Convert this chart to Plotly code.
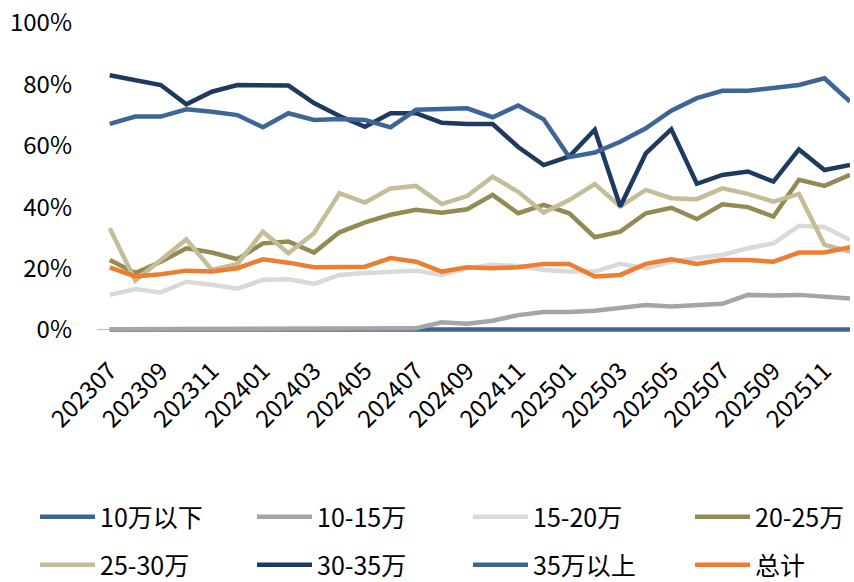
import plotly.graph_objects as go

months = ["202307", "202308", "202309", "202310", "202311", "202312",
          "202401", "202402", "202403", "202404", "202405", "202406",
          "202407", "202408", "202409", "202410", "202411", "202412",
          "202501", "202502", "202503", "202504", "202505", "202506",
          "202507", "202508", "202509", "202510", "202511", "202512"]

tick_labels = months[::2]

s_below10 = [0.1, 0.1, 0.1, 0.1, 0.1, 0.1, 0.1, 0.1, 0.1, 0.1, 0.1, 0.1,
             0.1, 0.1, 0.1, 0.1, 0.1, 0.1, 0.1, 0.1, 0.1, 0.1, 0.1, 0.2,
             0.2, 0.2, 0.2, 0.2, 0.2, 0.1]
s_10_15 = [0.2, 0.2, 0.3, 0.2, 0.2, 0.2, 0.2, 0.2, 0.3, 0.3, 0.4, 0.4,
           0.5, 2.5, 2.0, 3.0, 4.8, 5.8, 5.8, 6.2, 7.0, 8.1, 7.6, 7.9,
           8.5, 11.4, 11.2, 11.4, 10.8, 10.2]
s_15_20 = [11.4, 13.3, 12.2, 15.7, 14.7, 13.4, 16.3, 16.5, 15.0, 17.9, 18.5, 19.0,
           19.3, 17.9, 20.1, 21.2, 20.8, 19.5, 19.0, 19.0, 21.5, 20.1, 22.2, 23.4,
           24.4, 26.6, 28.2, 33.9, 33.5, 29.3]
s_20_25 = [22.8, 18.5, 22.2, 26.6, 25.2, 23.0, 28.2, 28.8, 25.2, 31.8, 35.0, 37.5,
           39.1, 38.2, 39.3, 44.0, 38.0, 40.7, 38.0, 30.2, 32.0, 38.0, 39.8, 36.1,
           40.9, 40.0, 36.9, 48.9, 46.9, 50.5]
s_25_30 = [33.1, 16.1, 22.8, 29.5, 19.5, 21.5, 32.0, 25.0, 31.5, 44.5, 41.5, 46.1,
           46.9, 41.0, 43.6, 49.9, 45.0, 38.2, 42.3, 47.5, 40.2, 45.6, 42.9, 42.6,
           46.1, 44.3, 41.8, 44.3, 27.7, 25.5]
s_30_35 = [83.0, 81.4, 79.8, 73.5, 77.6, 79.8, 79.6, 79.6, 73.9, 69.7, 66.2, 70.6,
           70.6, 67.5, 67.1, 67.1, 59.6, 53.7, 56.5, 65.2, 40.2, 57.5, 65.4, 47.6,
           50.5, 51.6, 48.3, 58.8, 52.1, 53.7]
s_above35 = [67.1, 69.5, 69.5, 71.9, 71.1, 70.0, 66.0, 70.6, 68.4, 68.7, 68.4, 66.0,
             71.7, 71.9, 72.2, 69.3, 73.1, 68.6, 56.3, 57.8, 61.3, 65.7, 71.4, 75.5,
             77.9, 77.9, 78.7, 79.8, 82.0, 74.4]
s_total = [20.4, 17.4, 18.1, 19.3, 19.0, 20.1, 23.0, 21.9, 20.4, 20.6, 20.6, 23.4,
           22.2, 19.0, 20.4, 20.1, 20.4, 21.5, 21.5, 17.4, 17.9, 21.5, 23.0, 21.5,
           22.8, 22.8, 22.2, 25.2, 25.2, 26.9]

series_names = ["10万以下", "10-15万", "15-20万", "20-25万",
                "25-30万", "30-35万", "35万以上", "总计"]
series_values = [s_below10, s_10_15, s_15_20, s_20_25,
                 s_25_30, s_30_35, s_above35, s_total]
series_colors = ["#3C6497", "#A5A5A5", "#D9D9D9", "#948A54",
                 "#C4BD97", "#1F3A60", "#3D6697", "#ED7D31"]

FONT = "Noto Sans CJK SC, Noto Sans, sans-serif"
W, H = 854, 582

# legend slot positions (pixels in figure coords): 4 columns x 2 rows
col_px = [35, 252, 468, 690]
row_px = [517, 565]

fig = go.Figure()
legend_layouts = {}
for i, (name, vals, col) in enumerate(zip(series_names, series_values, series_colors)):
    key = "legend" if i == 0 else f"legend{i + 1}"
    fig.add_trace(go.Scatter(
        x=months, y=[v / 100 for v in vals], name=name, mode="lines",
        line=dict(color=col, width=4.5),
        legend=key, showlegend=True,
    ))
    legend_layouts[key] = dict(
        orientation="h", xref="container", yref="container",
        x=col_px[i % 4] / W, xanchor="left",
        y=1 - row_px[i // 4] / H, yanchor="middle",
        itemwidth=55,
        font=dict(family=FONT, size=25, color="#000000"),
        bgcolor="rgba(0,0,0,0)",
    )

fig.update_layout(
    width=W, height=H, showlegend=True,
    margin=dict(l=97, r=4, t=23, b=246, autoexpand=False),
    paper_bgcolor="white", plot_bgcolor="white",
    font=dict(family=FONT, size=24, color="#000000"),
    xaxis=dict(
        type="category", range=[-0.5, 29],
        tickmode="array", tickvals=tick_labels, ticktext=tick_labels,
        tickangle=-45, showgrid=False, showline=False, zeroline=False,
        ticks="", ticklabelstandoff=15, ticklabeloverflow="allow",
        tickfont=dict(family=FONT, size=24, color="#000000"),
    ),
    yaxis=dict(
        range=[-0.02, 1.0], tickvals=[0, 0.2, 0.4, 0.6, 0.8, 1.0],
        tickformat=".0%", showgrid=False, showline=False,
        zeroline=True, zerolinecolor="#BFBFBF", zerolinewidth=1,
        ticks="", ticklabelstandoff=24, ticklabeloverflow="allow",
        tickfont=dict(family=FONT, size=24, color="#000000"),
    ),
    **legend_layouts,
)

fig.write_html(
    "out.html",
    config={"displayModeBar": False},
    post_script="document.body.style.margin='0';document.body.style.overflow='hidden';",
)
